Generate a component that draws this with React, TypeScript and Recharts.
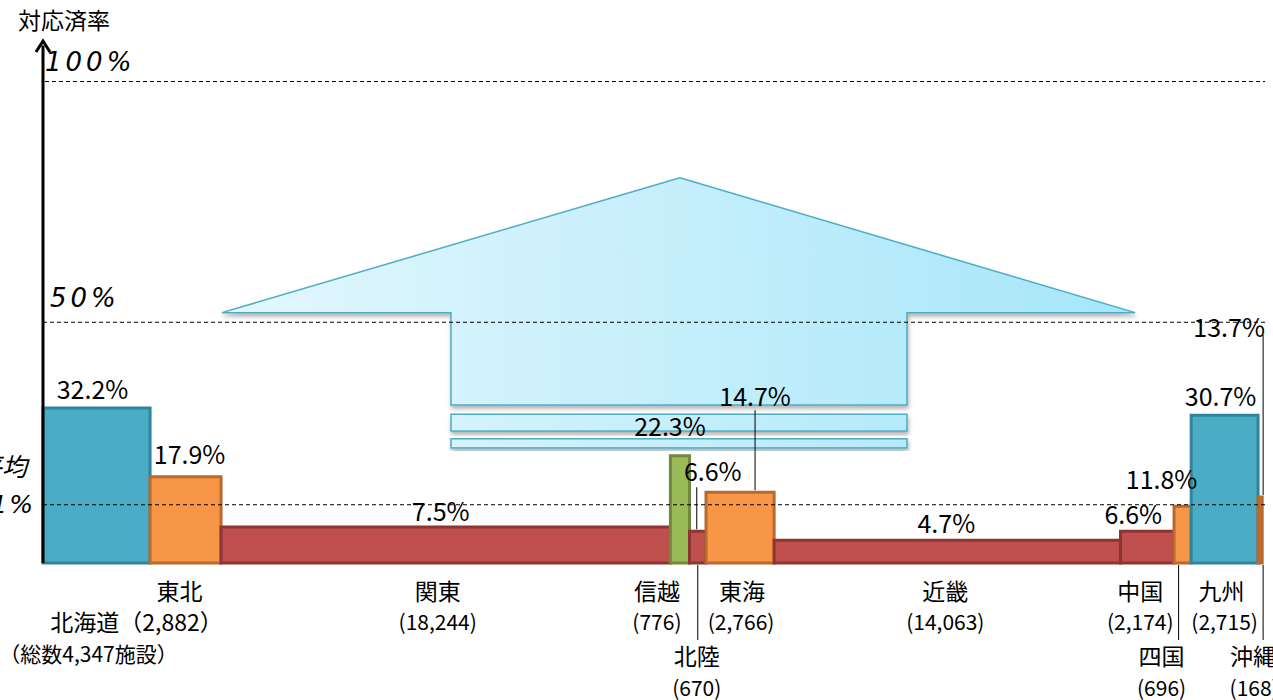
import { ComposedChart, XAxis, YAxis, ReferenceArea, ReferenceLine, ReferenceDot } from 'recharts'

// 地域別の施設数と対応済率
const regions = ['北海道', '東北', '関東', '信越', '北陸', '東海', '近畿', '中国', '四国', '九州', '沖縄']
const facilities = [4347, 2882, 18244, 776, 670, 2766, 14063, 2174, 696, 2715, 168]
const rates = [32.2, 17.9, 7.5, 22.3, 6.6, 14.7, 4.7, 6.6, 11.8, 30.7, 13.7]
const nameLabels = ['北海道（2,882）', '東北', '関東', '信越', '北陸', '東海', '近畿', '中国', '四国', '九州', '沖縄']
const countLabels = ['（総数4,347施設）', '', '(18,244)', '(776)', '(670)', '(2,766)', '(14,063)', '(2,174)', '(696)', '(2,715)', '(168)']
const averageRate = 12.1
const yTickLabels = ['100%', '50%']
const yTickValues = [100, 50]

const X_MAX = 49940
const Y_MAX = 108
const JP = '"Noto Sans CJK JP", "Noto Sans", sans-serif'

const BLUE = { fill: '#4bacc6', stroke: '#31849b' }
const ORANGE = { fill: '#f79646', stroke: '#b8692f' }
const RED = { fill: '#c0504d', stroke: '#8c3533' }
const GREEN = { fill: '#9bbb59', stroke: '#71893f' }
const DARK_ORANGE = { fill: '#c0722f', stroke: '#b8692f' }
const barColors = [BLUE, ORANGE, RED, GREEN, RED, ORANGE, RED, RED, ORANGE, BLUE, DARK_ORANGE]

// label offsets in px: [dx, dy] from bar top centre, optional leader [dx, fromDy, toDy]
const rateLabelLayout: { dx: number; dy: number; leader?: [number, number, number] }[] = [
  { dx: -4, dy: -20 },
  { dx: 4, dy: -24 },
  { dx: -5, dy: -17 },
  { dx: -10, dy: -31 },
  { dx: 15, dy: -61, leader: [-1, -44, -2] },
  { dx: 15, dy: -97, leader: [15, -82, -2] },
  { dx: -1, dy: -18 },
  { dx: -14, dy: -18 },
  { dx: -21, dy: -28 },
  { dx: -4, dy: -20 },
  { dx: -31, dy: -171, leader: [3, -162, -2] },
]

// bottom text offsets from bar base centre
const bottomLayout: { n: [number, number]; c: [number, number]; nSize: number; cSize: number; leader?: number }[] = [
  { n: [40, 58], c: [-8, 90], nSize: 23, cSize: 21 },
  { n: [-6, 27], c: [0, 58], nSize: 23, cSize: 21 },
  { n: [-8, 27], c: [-8, 58], nSize: 23, cSize: 21 },
  { n: [-23, 27], c: [-23, 58], nSize: 23, cSize: 21 },
  { n: [-1, 92], c: [-1, 124], nSize: 23, cSize: 21, leader: 0 },
  { n: [2, 27], c: [1, 58], nSize: 23, cSize: 21 },
  { n: [-2, 27], c: [-2, 58], nSize: 23, cSize: 21 },
  { n: [-7, 27], c: [-7, 58], nSize: 23, cSize: 21 },
  { n: [-21, 92], c: [-21, 124], nSize: 23, cSize: 21, leader: -4 },
  { n: [-3, 27], c: [0, 58], nSize: 23, cSize: 21 },
  { n: [-7, 92], c: [-6, 124], nSize: 23, cSize: 21, leader: 3 },
]

// 上向き矢印 (data units)
const arrow = {
  headLeft: 7270, headRight: 44340, apexX: 25860,
  shaftLeft: 16565, shaftRight: 35080,
  apexY: 80, headBaseY: 52, shaftBottomY: 32.8,
  stripes: [[30.9, 27.4], [25.8, 23.9]],
}

const starts: number[] = []
facilities.reduce((acc, v) => {
  starts.push(acc)
  return acc + v
}, 0)

const rows = regions.map((name, i) => ({
  name,
  x: starts[i] + facilities[i] / 2,
  rate: rates[i],
}))

function ArrowShape(p: any) {
  const { x, y, width, height } = p
  const x0 = arrow.headLeft
  const x1 = arrow.headRight
  const yTop = arrow.apexY
  const yBottom = arrow.stripes[1][1]
  const fx = (v: number) => x + ((v - x0) / (x1 - x0)) * width
  const fy = (v: number) => y + ((yTop - v) / (yTop - yBottom)) * height
  const pts = [
    [arrow.headLeft, arrow.headBaseY],
    [arrow.apexX, arrow.apexY],
    [arrow.headRight, arrow.headBaseY],
    [arrow.shaftRight, arrow.headBaseY],
    [arrow.shaftRight, arrow.shaftBottomY],
    [arrow.shaftLeft, arrow.shaftBottomY],
    [arrow.shaftLeft, arrow.headBaseY],
  ]
    .map(([a, b]) => `${fx(a)},${fy(b)}`)
    .join(' ')
  return (
    <g>
      <defs>
        <linearGradient id="arrowGrad" gradientUnits="userSpaceOnUse" x1={x} y1={0} x2={x + width} y2={0}>
          <stop offset="0%" stopColor="#e4f7fd" />
          <stop offset="100%" stopColor="#a6e6f9" />
        </linearGradient>
        <filter id="arrowShadow" x="-5%" y="-5%" width="110%" height="130%">
          <feDropShadow dx="1" dy="3" stdDeviation="2" floodColor="#000" floodOpacity="0.3" />
        </filter>
      </defs>
      <polygon points={pts} fill="url(#arrowGrad)" stroke="#4bacc6" strokeWidth={1.5} filter="url(#arrowShadow)" />
      {arrow.stripes.map(([top, bottom], i) => (
        <rect
          key={i}
          x={fx(arrow.shaftLeft)}
          y={fy(top)}
          width={fx(arrow.shaftRight) - fx(arrow.shaftLeft)}
          height={fy(bottom) - fy(top)}
          fill="url(#arrowGrad)"
          stroke="#4bacc6"
          strokeWidth={1.5}
          filter="url(#arrowShadow)"
        />
      ))}
    </g>
  )
}

function rateLabel(i: number) {
  return (p: any) => {
    const { cx, cy } = p
    const l = rateLabelLayout[i]
    return (
      <g>
        {l.leader && (
          <line x1={cx + l.leader[0]} x2={cx + l.leader[0]} y1={cy + l.leader[1]} y2={cy + l.leader[2]} stroke="#000" strokeWidth={1} />
        )}
        <text x={cx + l.dx} y={cy + l.dy} textAnchor="middle" dominantBaseline="central" fontFamily={JP} fontSize={25} fill="#000">
          {`${rates[i]}%`}
        </text>
      </g>
    )
  }
}

function bottomLabel(i: number) {
  return (p: any) => {
    const { cx, cy } = p
    const l = bottomLayout[i]
    return (
      <g>
        {l.leader !== undefined && (
          <line x1={cx + l.leader} x2={cx + l.leader} y1={cy + 2} y2={cy + 77} stroke="#000" strokeWidth={1} />
        )}
        <text x={cx + l.n[0]} y={cy + l.n[1]} textAnchor="middle" dominantBaseline="central" fontFamily={JP} fontSize={l.nSize} fill="#000">
          {nameLabels[i]}
        </text>
        {countLabels[i] && (
          <text x={cx + l.c[0]} y={cy + l.c[1]} textAnchor="middle" dominantBaseline="central" fontFamily={JP} fontSize={l.cSize} fill="#000">
            {countLabels[i]}
          </text>
        )}
      </g>
    )
  }
}

function AxisHead(p: any) {
  const { cx, cy } = p
  return (
    <g>
      <path d={`M${cx - 7},${cy + 9} L${cx},${cy - 2} L${cx + 7},${cy + 9}`} fill="none" stroke="#000" strokeWidth={3} />
      <text x={cx - 25} y={cy - 24} dominantBaseline="central" fontFamily={JP} fontSize={23} fill="#000">
        対応済率
      </text>
    </g>
  )
}

function yTick(label: string, dx: number, dy: number) {
  return (p: any) => (
    <text
      x={p.cx + dx}
      y={p.cy + dy}
      dominantBaseline="central"
      fontFamily='"DejaVu Sans", sans-serif'
      fontStyle="italic"
      fontSize={26}
      letterSpacing={4}
      fill="#000"
    >
      {label}
    </text>
  )
}

function AverageLabel(p: any) {
  const { cx, cy } = p
  const style = { fontFamily: '"DejaVu Sans", "Noto Sans CJK JP", sans-serif', fontStyle: 'italic' as const, fontSize: 25 }
  return (
    <g>
      <text x={cx - 16} y={cy - 37} textAnchor="end" dominantBaseline="central" {...style} fill="#000">
        全国平均
      </text>
      <text x={cx - 8} y={cy} textAnchor="end" dominantBaseline="central" {...style} letterSpacing={2} fill="#000">
        {`${averageRate}%`}
      </text>
    </g>
  )
}

export default function App() {
  return (
    <div style={{ position: 'absolute', left: 0, top: 0, width: 1273, height: 700, background: '#fff' }}>
      <ComposedChart width={1273} height={700} data={rows} margin={{ top: 43, right: 0, bottom: 137, left: 43 }}>
        <XAxis type="number" dataKey="x" domain={[0, X_MAX]} hide allowDataOverflow />
        <YAxis type="number" domain={[0, Y_MAX]} hide allowDataOverflow />

        <ReferenceArea
          x1={arrow.headLeft}
          x2={arrow.headRight}
          y1={arrow.stripes[1][1]}
          y2={arrow.apexY}
          ifOverflow="visible"
          shape={ArrowShape}
        />

        {regions.map((r, i) => (
          <ReferenceArea
            key={r}
            x1={starts[i]}
            x2={starts[i] + facilities[i]}
            y1={0}
            y2={rates[i]}
            fill={barColors[i].fill}
            fillOpacity={1}
            stroke={barColors[i].stroke}
            strokeWidth={3}
            ifOverflow="visible"
          />
        ))}

        {yTickValues.map((v) => (
          <ReferenceLine
            key={v}
            segment={[{ x: v === 100 ? 80 : 0, y: v }, { x: 49620, y: v }]}
            stroke="#000"
            strokeWidth={1}
            strokeDasharray="4 3"
            ifOverflow="visible"
          />
        ))}
        <ReferenceLine
          segment={[{ x: 0, y: averageRate }, { x: 49620, y: averageRate }]}
          stroke="#000"
          strokeWidth={1}
          strokeDasharray="4 3"
          ifOverflow="visible"
        />
        <ReferenceLine segment={[{ x: 0, y: 0 }, { x: 0, y: Y_MAX - 0.5 }]} stroke="#000" strokeWidth={3} ifOverflow="visible" />

        <ReferenceDot x={0} y={Y_MAX} ifOverflow="visible" shape={AxisHead} />
        <ReferenceDot x={0} y={100} ifOverflow="visible" shape={yTick(yTickLabels[0], 2, -20)} />
        <ReferenceDot x={0} y={50} ifOverflow="visible" shape={yTick(yTickLabels[1], 7, -24)} />
        <ReferenceDot x={0} y={averageRate} ifOverflow="visible" shape={AverageLabel} />

        {rows.map((row, i) => (
          <ReferenceDot key={`r${i}`} x={row.x} y={row.rate} ifOverflow="visible" shape={rateLabel(i)} />
        ))}
        {rows.map((row, i) => (
          <ReferenceDot key={`b${i}`} x={row.x} y={0} ifOverflow="visible" shape={bottomLabel(i)} />
        ))}
      </ComposedChart>
    </div>
  )
}
